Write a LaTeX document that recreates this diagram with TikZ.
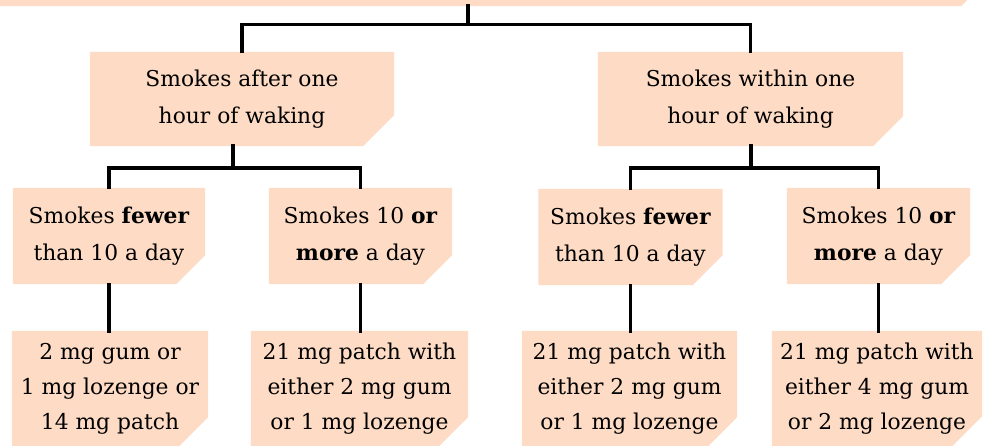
\documentclass[tikz,border=0pt]{standalone}
\usepackage{fontspec}
\setmainfont{DejaVu Serif}
\usetikzlibrary{backgrounds}
\definecolor{peach}{RGB}{253,219,196}
\newcommand{\cutfill}[2]{\fill[peach] (#1.north west) -- (#1.north east) -- ([yshift=#2pt]#1.south east) -- ([xshift=-#2pt]#1.south east) -- (#1.south west) -- cycle;}
\tikzset{
  box/.style={inner sep=0pt, align=center, text=black, font=\fontsize{21.8}{37}\selectfont},
  leafbox/.style={box, font=\fontsize{21.8}{35}\selectfont},
  conn/.style={line width=3.4pt, draw=black, line join=miter, line cap=rect}
}
\begin{document}
\begin{tikzpicture}[x=1pt,y=-1pt]
\useasboundingbox (0,0) rectangle (990,446);
\clip (0,0) rectangle (990,446);
% top (cut off) box
\node[box, minimum width=1002pt, minimum height=46pt] (T) at (490,-17) {};
% level 1
\node[box, minimum width=304pt, minimum height=94pt] (P) at (242,99) {Smokes after one\\hour of waking};
\node[box, minimum width=305pt, minimum height=94pt] (Q) at (750.5,99) {Smokes within one\\hour of waking};
% level 2
\node[box, minimum width=192pt, minimum height=96pt] (A) at (109,236) {Smokes \textbf{fewer}\\than 10 a day};
\node[box, minimum width=183pt, minimum height=96pt] (B) at (360.5,236) {Smokes 10 \textbf{or}\\\textbf{more} a day};
\node[box, minimum width=184pt, minimum height=96pt] (C) at (630.5,237) {Smokes \textbf{fewer}\\than 10 a day};
\node[box, minimum width=183pt, minimum height=96pt] (D) at (878.5,236) {Smokes 10 \textbf{or}\\\textbf{more} a day};
% level 3
\node[leafbox, minimum width=196pt, minimum height=115pt] (E) at (110,388.5) {2 mg gum or\\1 mg lozenge or\\14 mg patch};
\node[leafbox, minimum width=217pt, minimum height=115pt] (F) at (359.5,388.5) {21 mg patch with\\either 2 mg gum\\or 1 mg lozenge};
\node[leafbox, minimum width=215pt, minimum height=115pt] (G) at (629.5,388.5) {21 mg patch with\\either 2 mg gum\\or 1 mg lozenge};
\node[leafbox, minimum width=210pt, minimum height=115pt] (H) at (877,388.5) {21 mg patch with\\either 4 mg gum\\or 2 mg lozenge};
\begin{scope}[on background layer]
\cutfill{T}{30}
\cutfill{P}{31}
\cutfill{Q}{30}
\cutfill{A}{29}
\cutfill{B}{29}
\cutfill{C}{30}
\cutfill{D}{29}
\cutfill{E}{29}
\cutfill{F}{29}
\cutfill{G}{29}
\cutfill{H}{30}
\end{scope}
% junction points
\coordinate (jT) at (468,24.5);
\coordinate (jP) at (233,168);
\coordinate (jQ) at (751,168);
% connectors
\draw[conn] (T.south -| jT) -- (jT);
\draw[conn] (P.north) |- (jT) -| (Q.north);
\draw[conn] (P.south -| jP) -- (jP);
\draw[conn] (A.north) |- (jP) -| (B.north);
\draw[conn] (Q.south -| jQ) -- (jQ);
\draw[conn] (C.north) |- (jQ) -| (D.north);
\draw[conn] (A.south) -- (A.south |- E.north);
\draw[conn] (B.south) -- (B.south |- F.north);
\draw[conn] (C.south) -- (C.south |- G.north);
\draw[conn] (D.south) -- (D.south |- H.north);
\end{tikzpicture}
\end{document}
